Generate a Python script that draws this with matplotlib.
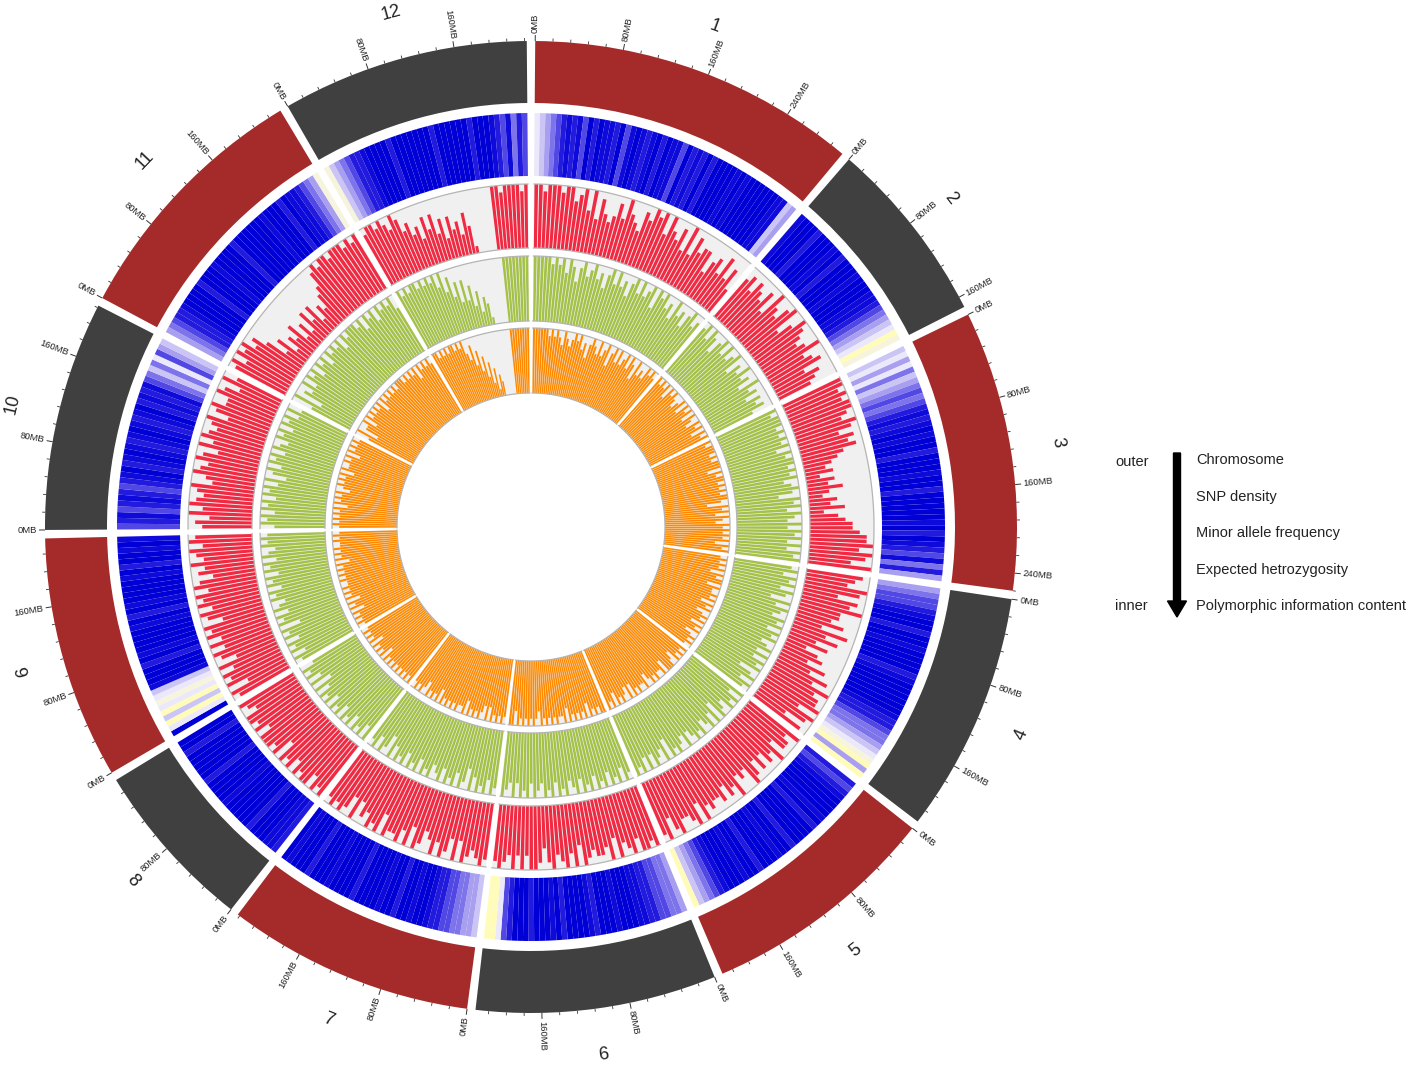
import numpy as np
import matplotlib.pyplot as plt
from matplotlib.colors import LinearSegmentedColormap
from matplotlib.patches import FancyArrow

plt.rcParams['font.family'] = ['Liberation Sans', 'DejaVu Sans']

W, H = 1417, 1071
CX, CY = 531, 527          # centre of the circle in px
R_MAX = 488

CHROMS = [str(i) for i in range(1, 13)]
CHROM_LEN = [301, 170, 256, 220, 218, 220, 226, 157, 222, 210, 236, 226]   # "MB"
CHROM_COLORS = ['#a52a2a', '#404040'] * 6
GAP_DEG = 1.0

# per-bin levels 0-9 (fraction of the track maximum), one string per chromosome
SNP = [
    "2345678786979887968987897988697879799998989999998834",
    "8999799989799989998876543201",
    "3242534565678789899799989979999989798768574",
    "4566789979989999789999998776554321040",
    "767899998979999799899979989998765430",
    "4556677889998999789999798999799976200",
    "34455667789989979989999799998999799989",
    "78899979999989999799999799",
    "9203021238999798999989798999989799898",
    "6786787678978987898789787865352643",
    "456778999979998999979999998999798876541",
    "13456778999979999999799999979998768576",
]
MAF = [
    "99899989978969586568697658798969768595867746758574",
    "7868768597689579876796785765",
    "9989899879868786543424353243524566788979869",
    "8769858796657485746356475869788969858",
    "978869786868967697868778796987798698",
    "9899798796978878969798798689979797898",
    "89878969689797689697988969897869689898",
    "98979989798969899979899789",
    "8969897968979798968979897986879789798",
    "78697987896798798697987896897798697",
    "897989786352435242535243568989989998989",
    "89989879867564757463645364100000998999989",
]
HE = [
    "99999898979868978978689797868979789698978697868978",
    "8979868979789687978697868786",
    "9899989898979899898978986989798797989797989",
    "8979897986979879897989789797989689798",
    "979897896979879898797898969789797989",
    "8979897989798979879897989789798979789",
    "89798979689798979879897989798979689798",
    "97989798979897989796979897",
    "8979897989698979879897989798979879898",
    "79897989798979689798979879897989797",
    "695879798979897989897989998979897989897",
    "98989989898979685747463524310000099999999",
]
PIC = [
    "99999989898798789897868987978968979789798697879898",
    "9898979898789798979879897989",
    "9899989899979899898989986989798798989897989",
    "8989897989979889897989789897989789898",
    "989897899979889898798898979789897989",
    "9989897989898979889898989789898989799",
    "89898979789898979889898989798989789898",
    "98989898989897989897989898",
    "8989897989798989889898989798989889898",
    "89898989798989789898979889897989898",
    "796889798989897989898989998989897989898",
    "99898989989897685746352413200000099999999",
]

LEGEND_ITEMS = ["Chromosome", "SNP density", "Minor allele frequency",
                "Expected hetrozygosity", "Polymorphic information content"]

# radii in px (inner, outer)
RING_R = (424, 486)
TRACKS = [
    (MAF, (279, 343), '#f02a42'),
    (HE, (206, 271), '#a4c148'),
    (PIC, (134, 199), '#ff8a00'),
]
SNP_R = (351, 414)
snp_cmap = LinearSegmentedColormap.from_list(
    'snp', ['#fffbb8', '#f1eefc', '#b8b0f2', '#6d62e8', '#1a12dc', '#0000d6'])

DEG_PER_UNIT = (360 - GAP_DEG * len(CHROMS)) / sum(CHROM_LEN)
CHROM_START = []
a = GAP_DEG / 2
for L in CHROM_LEN:
    CHROM_START.append(a)
    a += L * DEG_PER_UNIT + GAP_DEG


def chrom_theta(ci, x):
    return np.deg2rad(CHROM_START[ci] + np.asarray(x, dtype=float) * DEG_PER_UNIT)


fig = plt.figure(figsize=(W / 100, H / 100), dpi=100)
ax = fig.add_axes([(CX - R_MAX) / W, (H - CY - R_MAX) / H, 2 * R_MAX / W, 2 * R_MAX / H],
                  projection='polar')
ax.set_theta_zero_location('N')
ax.set_theta_direction(-1)
ax.set_ylim(0, R_MAX)
ax.set_axis_off()

for ci, name in enumerate(CHROMS):
    L = CHROM_LEN[ci]
    t0 = chrom_theta(ci, 0)
    span = chrom_theta(ci, L) - t0

    # chromosome ring
    ax.bar(t0, RING_R[1] - RING_R[0], width=span, bottom=RING_R[0], align='edge',
           color=CHROM_COLORS[ci], linewidth=0)

    # ticks and tick labels
    tick_pos = np.arange(0, L + 1, 16)
    major = tick_pos % 80 == 0
    th = chrom_theta(ci, tick_pos)
    lc = ax.vlines(th[~major], RING_R[1], RING_R[1] + 3, colors='#333333', linewidth=0.6)
    lc.set_clip_on(False)
    lc = ax.vlines(th[major], RING_R[1], RING_R[1] + 6, colors='#333333', linewidth=0.7)
    lc.set_clip_on(False)
    for v, t in zip(tick_pos[major], th[major]):
        deg = np.rad2deg(t) % 360
        if deg < 180:
            rot, ha = 90 - deg, 'left'
        else:
            rot, ha = 270 - deg, 'right'
        ax.text(t, RING_R[1] + 8, f"{v}MB", rotation=rot, rotation_mode='anchor',
                ha=ha, va='center', fontsize=6.8, color='#222222', clip_on=False)

    # chromosome name
    mid = t0 + span / 2
    deg = np.rad2deg(mid) % 360
    rot = -deg if (deg < 90 or deg > 270) else 180 - deg
    ax.text(mid, 533, name, rotation=rot, rotation_mode='anchor', ha='center',
            va='center', fontsize=13, color='#222222', clip_on=False)

    # SNP density heatmap
    lev = np.array([int(c) for c in SNP[ci]])
    edges = np.linspace(0, L, len(lev) + 1)
    tl = chrom_theta(ci, edges[:-1])
    bw = chrom_theta(ci, edges[1]) - chrom_theta(ci, 0)
    ax.bar(tl, SNP_R[1] - SNP_R[0], width=bw, bottom=SNP_R[0], align='edge',
           color=snp_cmap(lev / 9), linewidth=0)

    # histogram tracks
    for levels, (r0, r1), col in TRACKS:
        ax.bar(t0, r1 - r0, width=span, bottom=r0, align='edge', color='#f0f0f0',
               linewidth=0)
        arc = np.linspace(t0, t0 + span, 80)
        for rr in (r0, r1):
            ax.plot(arc, np.full_like(arc, rr), color='#b4b4b4', linewidth=0.9)
        lev = np.array([int(c) for c in levels[ci]])
        edges = np.linspace(0, L, len(lev) + 1)
        tl = chrom_theta(ci, edges[:-1])
        bw = chrom_theta(ci, edges[1]) - chrom_theta(ci, 0)
        ax.bar(tl + bw * 0.11, (r1 - r0) * lev / 9, width=bw * 0.78, bottom=r0,
               align='edge', color=col, linewidth=0)

# legend, drawn in pixel coordinates
lg = fig.add_axes([0, 0, 1, 1])
lg.set_xlim(0, W)
lg.set_ylim(H, 0)
lg.set_axis_off()
lg.text(1115, 462, "outer", fontsize=10.5, ha='left', va='center', color='#222222')
lg.text(1115, 606, "inner", fontsize=10.5, ha='left', va='center', color='#222222')
lg.add_patch(FancyArrow(1177, 453, 0, 164, width=7, head_width=19, head_length=16,
                        length_includes_head=True, color='black'))
for i, item in enumerate(LEGEND_ITEMS):
    lg.text(1196, 460 + i * 36.6, item, fontsize=10.5, ha='left', va='center',
            color='#222222')

fig.savefig('out.png', dpi=100)
